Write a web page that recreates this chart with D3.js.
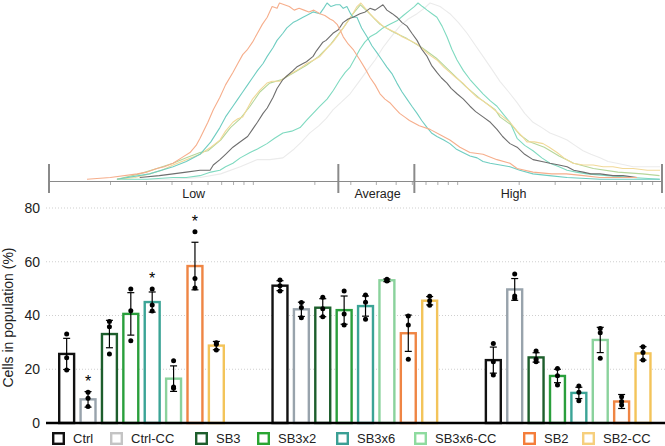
<!DOCTYPE html>
<html><head><meta charset="utf-8">
<script src="https://cdn.jsdelivr.net/npm/d3@7"></script>
<style>html,body{margin:0;padding:0;background:#fff;}svg{display:block;font-family:"Liberation Sans",Arial,Helvetica,sans-serif;}</style>
</head><body>
<svg id="chart" width="665" height="446"></svg>
<script>
// ---------- DATA ----------
const groups = ["Low", "Average", "High"];
const series = ["Ctrl", "Ctrl-CC", "SB3", "SB3x2", "SB3x6", "SB3x6-CC", "SB2", "SB2-CC"];
const yTicks = [0, 20, 40, 60, 80];

const lowMeans = [25.7, 8.8, 33.1, 40.6, 45.0, 16.5, 58.4, 28.8];
const lowErr   = [5.8, 2.9, 5.1, 7.9, 3.75, 4.75, 8.85, 1.55];
const lowPts   = [[33.1,24.3,19.7],[11.4,9.2,6.1],[37.8,35.8,25.7],[49.9,41.8,30.6],[49.9,43.9,41.7],[23.2,13.4,12.9],[71.2,53.8,50.2],[29.9,29.3,27.2]];

const avgMeans = [51.1, 42.3, 42.9, 42.0, 43.5, 53.1, 33.4, 45.5];
const avgErr   = [1.85, 2.65, 3.35, 5.25, 3.75, 0.5, 6.75, 1.55];
const avgPts   = [[53.2,51.1,49.1],[44.8,43.0,39.2],[46.8,42.5,39.5],[49.1,40.6,36.5],[47.6,44.9,38.6],[53.5,53.1,52.8],[39.8,36.5,23.7],[47.2,45.5,43.8]];

const highMeans = [23.4, 49.7, 24.4, 17.5, 11.2, 30.9, 8.0, 25.9];
const highErr   = [4.85, 4.05, 1.75, 2.5, 2.1, 4.7, 2.6, 2.5];
const highPts   = [[29.6,22.8,17.9],[55.4,47.3,46.4],[26.8,23.7,22.8],[20.3,17.6,14.1],[13.8,11.4,8.3],[35.2,33.6,24.1],[9.8,8.0,6.7],[28.4,26.2,23.4]];

const stars = [["Low","Ctrl-CC"],["Low","SB3x6"],["Low","SB2"]];

// histogram (channel 0-250, % of mode)
const gateBounds = [0, 118, 149, 250];
const gateLabels = ["Low", "Average", "High"];
const gateLabelPos = [59, 134, 189.5];

const histCtrlCC = [[41.2,1],[50,1],[61.6,2],[70,4],[78,8],[84.8,12],[90,12],[95.4,13],[100,18],[103,22],[106.4,27],[110,31],[113,35],[115.8,40],[119,44],[122.8,49],[126,55],[129.7,62],[133,68],[136.2,75],[139.5,81],[143.1,87],[146.5,91],[150.1,94],[153,97],[155.4,100],[157.5,99],[159.5,98],[161.5,96],[163.5,94],[167,89],[170.5,83],[174,76],[177,70],[180.5,63],[183.9,56],[187.5,50],[190.9,44],[194,38],[197.4,33],[201,30],[204.3,27],[208,25],[211.3,23],[214.5,20],[217.8,17],[221,15],[224.7,13],[228,11],[231.6,10],[235,9],[238.2,8],[244,8],[249.2,8]];
const histSB3x6CC = [[27.7,1],[40,1],[50.6,2],[56,2],[61.6,3],[66,5],[69.7,6],[72,8],[75,10],[78,13],[82,16],[85,18],[88.9,21],[92,24],[95.4,27],[99,28],[102.4,30],[105,34],[107.7,38],[110.5,42],[113.4,46],[116,51],[118.7,57],[120.8,61],[122.8,64],[124.8,69],[126.8,74],[128.8,78],[130.9,81],[133.5,83],[136.2,86],[139,88],[141.9,90],[144.5,93],[147.2,96],[149,98],[150.5,100],[152.3,98],[154.2,96],[156.2,94],[158.2,92],[160.3,87],[162.3,81],[164.3,74],[166.4,68],[169,62],[171.7,57],[174.3,53],[177,49],[180,45],[182.7,42],[185,38],[188,33],[190.9,24],[194,20],[197.4,17],[201,13],[204.3,10],[208,8],[211.3,6],[215,5],[219.4,4],[227.6,3],[238.2,2],[249.2,1]];
const histSB3x2 = [[27.7,1],[37,4],[44,7],[50.6,10],[56,13],[61.6,16],[64.8,17],[70,23],[74,30],[78,35],[82,42],[86,50],[90,55],[95,57],[100,61],[105,65],[110,70],[115,77],[120,86],[124,94],[127,99],[130,95],[135,88],[140,84],[146,80],[152,75],[158,69],[164,61],[170,53],[176,46],[182,40],[183.9,36],[189,31],[192,26],[196,22],[202,19],[208,14],[214,10],[222,7],[232,5],[242,4],[249,3]];
const histSB2CC = [[27.7,1],[35,2],[41,4],[46,6],[50.6,9],[56,12],[61.6,15],[66,19],[69.7,23],[72,28],[75,33],[77,35],[79,36],[81,41],[83,46],[86,51],[88.9,55],[91,56],[94.2,56],[97,59],[99.5,61],[102,63],[105.2,66],[108,68],[110.5,70],[113,74],[115.8,78],[118,82],[121.5,89],[123.5,93],[125.6,98],[127.2,100],[129,97],[130.9,94],[133,91],[136.2,87],[139,85],[141.9,83],[144,81],[147.2,79],[150,77],[152.5,74],[155,71],[158.2,68],[161,64],[163.5,61],[166,58],[168.8,55],[171.5,51],[174.6,47],[177,45],[179.9,42],[182.5,39],[185.2,36],[188,33],[190.9,28],[193,25],[194.9,22],[198,22],[201.5,21],[204,19],[207.2,16],[210,13],[213.7,10],[218,9],[221.9,9],[226,8],[230,8],[234,7],[238.2,7],[244,6],[249.2,6]];
const histSB3x6 = [[27.7,1],[41,4],[50.6,8],[56,11],[61.6,15],[66,22],[69.7,30],[72,36],[75,42],[77,46],[79,50],[81,54],[83,58],[85,62],[87.3,66],[89,70],[91.4,75],[93,79],[95.4,83],[97,86],[99.5,89],[101,90],[103.6,92],[105,93],[107.7,95],[110.5,94],[112,97],[113.4,100],[115,98],[117,99],[118.7,99],[120,97],[121.5,98],[123,94],[124,92],[125.6,92],[127.5,86],[129.7,81],[131.7,76],[133.8,72],[135.8,68],[137.8,64],[140,60],[141.9,55],[144,50],[146,46],[148,42],[150.1,38],[152,34],[154.2,30],[156,27],[158.2,25],[161,23],[163.5,21],[166,18],[168.8,16],[171.7,14],[174.6,13],[177,11],[179.9,10],[184,9],[188,8],[192,6],[197.4,4],[204,3],[211.3,2],[224.7,1],[249,1]];
const histCtrl = [[37,2],[45,3],[50.6,4],[56,5],[61.6,6],[65.7,6],[67,9],[69.7,12],[72,15],[75,19],[79,23],[81,25],[83,29],[85,33],[87.3,38],[89,41],[91.4,47],[93,52],[95.4,57],[97,59],[99.5,62],[101,64],[103.6,66],[105,67],[107.7,70],[109,73],[111.7,78],[113,79],[115.8,83],[118,85],[119.9,89],[122,91],[124,92],[126.8,94],[129,95],[130.9,97],[133,96],[136.2,99],[137.8,96],[140,94],[141.9,92],[144,89],[146,87],[148,83],[150.1,79],[152,74],[154.2,70],[156,65],[158.2,61],[160,58],[162.3,55],[164,52],[166.4,49],[169,46],[171.7,42],[174,39],[177,36],[180,33],[182.7,29],[185,25],[188,21],[190.9,19],[194,15],[197.4,12],[201,11],[204.3,10],[208,9],[211.3,8],[214,6],[217.8,5],[221,4],[224.7,4],[230,3],[234.1,3],[239.8,2]];
const histSB2 = [[15.5,1],[25,2],[36,4],[40,5],[44,7],[47,8],[50.6,10],[54,13],[57.5,16],[60,20],[61.6,24],[63,28],[64.8,33],[67,40],[69.7,47],[72,54],[75,61],[77,66],[79,71],[81,74],[83,78],[85,83],[87,88],[89,92],[91,98],[93,97],[94,100],[96,99],[98,98],[100,96],[102,97],[104,96],[106,95],[108,96],[110.5,94],[112.5,93],[114.6,91],[116,90],[117.5,88],[119,84],[120,81],[122,77],[124,74],[126.8,68],[129,63],[131,58],[133,54],[135,49],[137,46],[139,44],[141,41],[143,38],[145,36],[147,34],[151,31],[155.4,29],[159.5,26],[163.5,23],[167.6,19],[171.7,16],[177,15],[182.7,12],[188,10],[190.9,7],[197.4,5],[205,4],[211,4],[218,3],[224.7,2],[239.8,2]];

// ---------- STYLE / LAYOUT ----------
const barColor = d3.scaleOrdinal().domain(series)
  .range(["#111111", "#98a3ac", "#1d5e2c", "#2a9f3c", "#3ba496", "#8ad29c", "#ef8544", "#f3c45a"]);
const legendColor = d3.scaleOrdinal().domain(series)
  .range(["#111111", "#c4c4c4", "#1d5e2c", "#2aa532", "#3a9f94", "#8edb9f", "#f47d3a", "#f6cf7d"]);
const legendX = [52, 110, 195, 257, 336, 414, 523, 582];

const histCurves = [
  {data: histCtrlCC, color: "#ebebeb"},
  {data: histSB3x6CC, color: "#7fdac0"},
  {data: histSB3x2, color: "#b5d69a"},
  {data: histSB2CC, color: "#f1d998"},
  {data: histSB3x6, color: "#6fcdc1"},
  {data: histCtrl, color: "#6e6e6e"},
  {data: histSB2, color: "#f6ae8c"}
];

const svg = d3.select("#chart");

// ---------- HISTOGRAM ----------
const hx = d3.scaleLinear().domain([0, 250]).range([49, 662]);
const hy = d3.scaleLinear().domain([0, 100]).range([181, 3]);
const hLog = d3.scaleLog().domain([10, 10000]).range([49, 662]);

const hg = svg.append("g");
const line = d3.line().x(d => hx(d[0])).y(d => hy(d[1]));
hg.selectAll("path.curve").data(histCurves).join("path")
  .attr("class", "curve")
  .attr("d", d => line(d.data))
  .attr("fill", "none")
  .attr("stroke", d => d.color)
  .attr("stroke-width", 1.1)
  .attr("stroke-linejoin", "round");

// axis line
hg.append("line").attr("x1", hx(0)).attr("x2", hx(250))
  .attr("y1", hy(0) + 0.5).attr("y2", hy(0) + 0.5)
  .attr("stroke", "#8a8a8a").attr("stroke-width", 1);
// minor log ticks
hg.selectAll("line.minor").data(hLog.ticks()).join("line")
  .attr("class", "minor")
  .attr("x1", d => hLog(d)).attr("x2", d => hLog(d))
  .attr("y1", hy(0) + 1).attr("y2", hy(0) + 4)
  .attr("stroke", "#999").attr("stroke-width", 0.8);
// gate bounds
hg.selectAll("line.gate").data(gateBounds).join("line")
  .attr("class", "gate")
  .attr("x1", d => hx(d)).attr("x2", d => hx(d))
  .attr("y1", 164).attr("y2", 193)
  .attr("stroke", "#8a8a8a").attr("stroke-width", 2);
hg.selectAll("text.gl").data(gateLabels).join("text")
  .attr("class", "gl")
  .attr("x", (d, i) => hx(gateLabelPos[i]))
  .attr("y", 198)
  .attr("text-anchor", "middle")
  .attr("font-size", 12.5)
  .attr("fill", "#222")
  .text(d => d);

// ---------- BAR CHART ----------
const y = d3.scaleLinear().domain([0, 80]).range([423, 208]);
const x0 = d3.scaleBand().domain(groups).range([35, 675]).padding(0);
const x1 = d3.scaleBand().domain(series).range([23, 190]).paddingInner(0.19).paddingOuter(0);
const bw = x1.bandwidth();

const g = svg.append("g");

// gridlines
g.selectAll("line.grid").data(yTicks.filter(t => t > 0)).join("line")
  .attr("class", "grid")
  .attr("x1", 46).attr("x2", 665)
  .attr("y1", d => y(d)).attr("y2", d => y(d))
  .attr("stroke", "#cfcfcf").attr("stroke-width", 1)
  .attr("stroke-dasharray", "1,2");

// y axis labels
const yAxis = d3.axisLeft(y).tickValues(yTicks).tickSize(0).tickPadding(6);
const ya = g.append("g").attr("transform", "translate(46,0)").call(yAxis);
ya.select(".domain").remove();
ya.selectAll("text").attr("font-size", 14).attr("fill", "#222")
  .attr("font-family", '"Liberation Sans",Arial,sans-serif');

g.append("text")
  .attr("transform", `translate(13,${(y(0) + y(80)) / 2 + 2}) rotate(-90)`)
  .attr("text-anchor", "middle")
  .attr("font-size", 14)
  .attr("fill", "#222")
  .text("Cells in population (%)");

const groupData = [
  {g: "Low", means: lowMeans, err: lowErr, pts: lowPts},
  {g: "Average", means: avgMeans, err: avgErr, pts: avgPts},
  {g: "High", means: highMeans, err: highErr, pts: highPts}
];
const flat = [];
groupData.forEach(gd => series.forEach((s, i) => flat.push({
  group: gd.g, s, mean: gd.means[i], err: gd.err[i], pts: gd.pts[i],
  cx: x0(gd.g) + x1(s) + bw / 2, left: x0(gd.g) + x1(s)
})));

const sw = 2.4;
g.selectAll("rect.bar").data(flat).join("rect")
  .attr("class", "bar")
  .attr("x", d => d.left + sw / 2)
  .attr("width", bw - sw)
  .attr("y", d => y(d.mean))
  .attr("height", d => y(0) - y(d.mean))
  .attr("fill", "#fff")
  .attr("stroke", d => barColor(d.s))
  .attr("stroke-width", sw);

// error bars
const eb = g.selectAll("g.eb").data(flat).join("g").attr("class", "eb");
eb.append("line")
  .attr("x1", d => d.cx).attr("x2", d => d.cx)
  .attr("y1", d => y(d.mean + d.err)).attr("y2", d => y(d.mean - d.err))
  .attr("stroke", "#000").attr("stroke-width", 1.2);
eb.append("line")
  .attr("x1", d => d.cx - 3.5).attr("x2", d => d.cx + 3.5)
  .attr("y1", d => y(d.mean + d.err)).attr("y2", d => y(d.mean + d.err))
  .attr("stroke", "#000").attr("stroke-width", 1.2);
eb.append("line")
  .attr("x1", d => d.cx - 3.5).attr("x2", d => d.cx + 3.5)
  .attr("y1", d => y(d.mean - d.err)).attr("y2", d => y(d.mean - d.err))
  .attr("stroke", "#000").attr("stroke-width", 1.2);

// points
const ptsFlat = [];
flat.forEach(d => d.pts.forEach(v => ptsFlat.push({cx: d.cx, v})));
g.selectAll("circle.pt").data(ptsFlat).join("circle")
  .attr("class", "pt")
  .attr("cx", d => d.cx).attr("cy", d => y(d.v))
  .attr("r", 2.5).attr("fill", "#000");

// stars
g.selectAll("text.star").data(stars).join("text")
  .attr("class", "star")
  .attr("x", d => x0(d[0]) + x1(d[1]) + bw / 2)
  .attr("y", d => {
    const item = flat.find(f => f.group === d[0] && f.s === d[1]);
    const top = Math.max(d3.max(item.pts), item.mean + item.err);
    return y(top) - 5;
  })
  .attr("text-anchor", "middle")
  .attr("font-size", 16)
  .attr("fill", "#000")
  .text("*");

// baseline
g.append("line").attr("x1", 46).attr("x2", 665)
  .attr("y1", y(0)).attr("y2", y(0))
  .attr("stroke", "#000").attr("stroke-width", 2.5);

// legend
const lg = g.selectAll("g.leg").data(series).join("g").attr("class", "leg")
  .attr("transform", (d, i) => `translate(${legendX[i]},432)`);
lg.append("rect").attr("x", 1.2).attr("y", 1.2).attr("width", 10.6).attr("height", 10.6)
  .attr("fill", "#fff").attr("stroke", d => legendColor(d)).attr("stroke-width", 2.4);
lg.append("text").attr("x", 21).attr("y", 11).attr("font-size", 13).attr("fill", "#222").text(d => d);
</script>
</body></html>
